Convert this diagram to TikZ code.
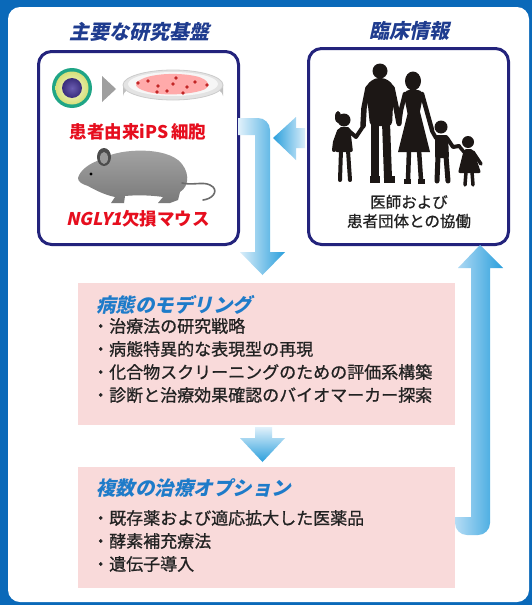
\documentclass[tikz,border=0pt]{standalone}
\usepackage{fontspec}
\setmainfont{Noto Sans CJK JP}
\newfontfamily\jp{Noto Sans CJK JP}
\newfontfamily\jpmed{Noto Sans CJK JP}[FakeBold=0.9]
\newfontfamily\jpsl{Noto Sans CJK JP}[FakeSlant=0.22]

\definecolor{bgblue}{HTML}{0A69B9}
\definecolor{navy}{HTML}{23237C}
\definecolor{titleblue}{HTML}{1F3C8F}
\definecolor{headblue}{HTML}{1E7BC9}
\definecolor{pinkbox}{HTML}{F9DADA}
\definecolor{arrowdark}{HTML}{2A9FDC}
\definecolor{arrowlight}{HTML}{B5DCF5}
\definecolor{redtext}{HTML}{E60E1E}
\definecolor{ink}{HTML}{1C1715}
\definecolor{bodytext}{HTML}{222222}
\definecolor{cellring}{HTML}{1FA586}
\definecolor{cellin}{HTML}{F8F8D8}
\definecolor{cellout}{HTML}{D6E07A}
\definecolor{nucin}{HTML}{6A5CB0}
\definecolor{nucout}{HTML}{3A2D7C}

\tikzset{
  navybox/.style={draw=navy, line width=3pt, rounded corners=13pt, fill=white,
    anchor=north west, inner sep=0pt},
  pinkpanel/.style={fill=pinkbox, anchor=north west, inner sep=0pt},
  boxtitle/.style={font=\jpsl\bfseries\fontsize{20}{22}\selectfont, text=titleblue, inner sep=0pt},
  redlabel/.style={font=\jp\bfseries\fontsize{17.5}{20}\selectfont, text=redtext, inner sep=0pt},
  panelhead/.style={font=\jpsl\bfseries\fontsize{19.5}{22}\selectfont, text=headblue, anchor=west, inner sep=0pt},
  item/.style={font=\jpmed\fontsize{17}{20}\selectfont, text=bodytext, anchor=west, inner sep=0pt},
  caption/.style={font=\jpmed\fontsize{15.5}{18}\selectfont, text=bodytext, inner sep=0pt},
  limb/.style={draw=ink, line cap=round, line join=round},
}

\begin{document}
\begin{tikzpicture}[x=1pt,y=-1pt]
\useasboundingbox (0,0) rectangle (532,605);

% frame
\fill[bgblue] (0,0) rectangle (532,605);
\fill[white, rounded corners=12pt] (8,7) rectangle (529,602);

% boxes
\node[navybox, minimum width=200pt, minimum height=193pt] (basis) at (37,50) {};
\node[navybox, minimum width=200pt, minimum height=196pt] (clinic) at (307,47) {};
\node[pinkpanel, minimum width=377pt, minimum height=142pt] (model) at (78,283) {};
\node[pinkpanel, minimum width=377pt, minimum height=121pt] (therapy) at (78,467) {};

% titles
\node[boxtitle] (t1) at (139,32) {主要な研究基盤};
\node[boxtitle] (t2) at (409,31) {臨床情報};

% cell
\fill[cellring] (72,88) circle (20);
\shade[inner color=cellin, outer color=cellout] (72,88) circle (16.5);
\shade[inner color=nucin, outer color=nucout] (72,88) circle (10);

% grey triangle
\fill[gray!75] (102,76) -- (116,89) -- (102,102) -- cycle;

% petri dish
\fill[gray!50] (123,85) -- (123,96) arc[start angle=180, end angle=360, x radius=50, y radius=15] -- (223,85) -- cycle;
\fill[gray!22, draw=gray!40, line width=0.8pt] (173,85) ellipse (50 and 15);
\fill[gray!7] (173,84) ellipse (45 and 12);
\fill[red!30!pink!70!white] (140,80) .. controls (150,74) and (175,72) .. (195,76)
  .. controls (210,79) and (213,88) .. (200,91) .. controls (185,95) and (160,96) .. (145,91)
  .. controls (135,88) and (133,83) .. cycle;
\foreach \p in {(138,83),(148,81),(158,86),(173,84),(176,78),(187,87),(195,82),(207,85),(157,92),(167,91),(183,93)}
  \fill[red!70!black!80!pink] \p circle (1.8);

\node[redlabel] (ips) at (138,132) {患者由来iPS\,細胞};

% mouse
\shade[top color=gray!70, bottom color=gray!95!black] (78,178) .. controls (80,170) and (90,163) .. (100,160)
  .. controls (115,149) and (160,146) .. (178,160) .. controls (190,170) and (190,186) .. (180,192)
  -- (178,200) -- (170,203) -- (158,203) -- (163,197) .. controls (150,195) and (135,195) .. (125,196)
  -- (124,203) -- (111,203) -- (115,197) .. controls (105,195) and (95,190) .. (88,186)
  .. controls (82,184) and (78,182) .. cycle;
\fill[gray!60!black] (104,157) ellipse (7 and 9);
\fill[gray!80] (104,158) ellipse (4 and 6);
\fill[black] (91,174) circle (1.6);
\draw[gray!85!black, line width=1.6pt, line cap=round] (182,183) .. controls (195,186) and (205,180) .. (213,187)
  .. controls (218,192) and (212,199) .. (203,200);

\node[redlabel] (mouse) at (138,219) {{\jpsl NGLY1}欠損マウス};

% family silhouettes
\begin{scope}
% father
\fill[ink] (380,71) circle (7.5);
\fill[ink, rounded corners=4pt] (375,78) -- (385,78) -- (394,85) -- (392,126) -- (370,126) -- (366,85) -- cycle;
\draw[limb, line width=5.5pt] (368,88) -- (364,108) -- (363,126);
\draw[limb, line width=5.5pt] (392,88) -- (396,107) -- (399,123);
\draw[limb, line width=8pt] (375,122) -- (375,178);
\draw[limb, line width=8pt] (386,122) -- (388,178);
\fill[ink] (370,176) rectangle (380,183);
\fill[ink] (384,176) rectangle (395,183);
% mother
\fill[ink] (413,81) ellipse (8 and 9.5);
\fill[ink, rounded corners=3pt] (406,90) -- (421,90) -- (423,96) -- (419,116) -- (408,116) -- (404,96) -- cycle;
\fill[ink] (408,112) -- (420,112) -- (430,152) -- (398,152) -- cycle;
\draw[limb, line width=4.5pt] (405,94) -- (401,110) -- (399,124);
\draw[limb, line width=4.5pt] (422,94) -- (427,112) -- (432,130);
\draw[limb, line width=4.5pt] (409,150) -- (408,180);
\draw[limb, line width=4.5pt] (419,150) -- (421,180);
\fill[ink] (404,179) rectangle (411,184);
\fill[ink] (418,179) rectangle (425,184);
% girl on the left
\fill[ink] (344,120) circle (6.5);
\fill[ink] (338,117) ellipse (3 and 6);
\fill[ink, rounded corners=2pt] (339,127) -- (350,127) -- (353,152) -- (335,152) -- cycle;
\draw[limb, line width=4pt] (349,131) -- (356,137) -- (362,128);
\draw[limb, line width=4pt] (339,131) -- (335,142) -- (334,150);
\draw[limb, line width=4pt] (341,150) -- (340,180);
\draw[limb, line width=4pt] (348,150) -- (350,180);
% boy
\fill[ink] (441,127) circle (6.5);
\fill[ink, rounded corners=2pt] (435,135) -- (448,135) -- (449,158) -- (435,158) -- cycle;
\draw[limb, line width=4pt] (436,138) -- (432,131);
\draw[limb, line width=4pt] (447,138) -- (453,147) -- (459,146);
\draw[limb, line width=5pt] (438,156) -- (437,181);
\draw[limb, line width=5pt] (446,156) -- (448,181);
% little girl
\fill[ink] (468,142) circle (6);
\fill[ink, rounded corners=2pt] (464,149) -- (473,149) -- (481,173) -- (458,173) -- cycle;
\draw[limb, line width=3.5pt] (464,152) -- (459,146);
\draw[limb, line width=3.5pt] (473,152) -- (481,164);
\draw[limb, line width=3.5pt] (466,172) -- (465,185);
\draw[limb, line width=3.5pt] (472,172) -- (473,185);
\end{scope}

\node[caption] (c1) at (409,202) {医師および};
\node[caption] (c2) at (409,221) {患者団体との協働};

% block arrows
\shade[left color=arrowlight!40!white, right color=arrowdark]
  (238,118) [rounded corners=12pt]-- (270,118) -- (270,200) [sharp corners]-- (270,252) -- (285,252)
  -- (262.5,275) -- (240,252) -- (255,252) -- (255,135) -- (238,135) -- cycle;
\shade[left color=arrowdark, right color=arrowlight!50!white]
  (273,138) -- (296,117) -- (296,128) -- (305,128) -- (305,148) -- (296,148) -- (296,160) -- cycle;
\shade[top color=arrowlight!40!white, bottom color=arrowdark]
  (255,427) -- (272,427) -- (272,438) -- (285,438) -- (262.5,462) -- (240,438) -- (255,438) -- cycle;
\shade[left color=arrowlight, right color=arrowdark]
  (455,517) -- (471,517) -- (471,268) -- (458,268) -- (480,245) -- (503,268) -- (490,268)
  -- (490,450) [rounded corners=12pt]-- (490,535) -- (455,535) [sharp corners]-- cycle;

% panel texts
\node[panelhead] (h1) at (96,305) {病態のモデリング};
\node[item] (m1) at (92,326) {・治療法の研究戦略};
\node[item] (m2) at (92,349) {・病態特異的な表現型の再現};
\node[item] (m3) at (92,372) {・化合物スクリーニングのための評価系構築};
\node[item] (m4) at (92,395) {・診断と治療効果確認のバイオマーカー探索};

\node[panelhead] (h2) at (96,488) {複数の治療オプション};
\node[item] (o1) at (92,518) {・既存薬および適応拡大した医薬品};
\node[item] (o2) at (92,541) {・酵素補充療法};
\node[item] (o3) at (92,564) {・遺伝子導入};
\end{tikzpicture}
\end{document}
